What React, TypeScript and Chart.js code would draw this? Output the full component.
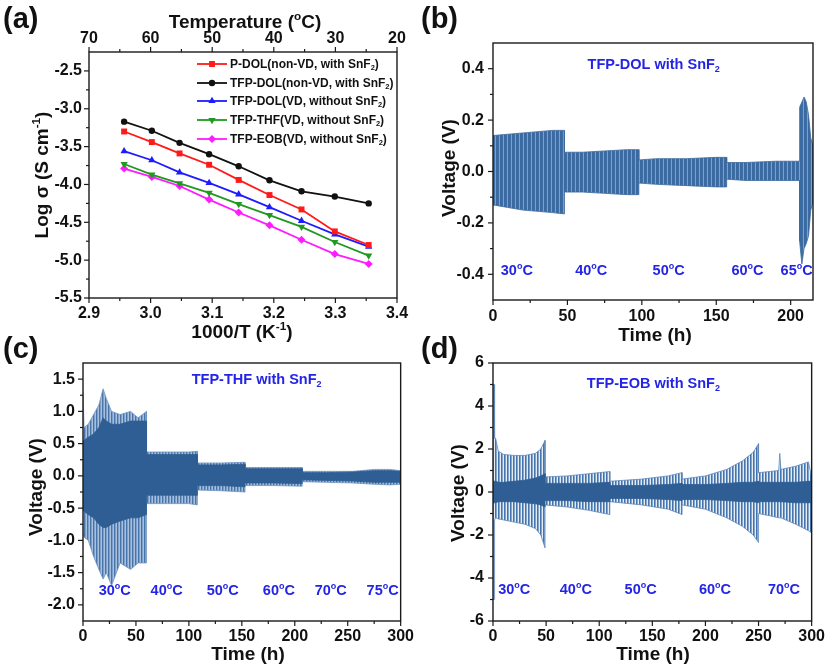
import React, { useEffect, useRef } from 'react';
import { Chart, registerables } from 'chart.js';
Chart.register(...registerables);

const FONT = '"Liberation Sans", Arial, Helvetica, sans-serif';
const TXT_BLUE = '#2424e6';
const WAVE = '#3a6aa0';
const WAVE_DARK = '#2e5e93';

// ---------- Panel (a) data ----------
const aInvT = [2.957, 3.002, 3.047, 3.095, 3.143, 3.193, 3.245, 3.299, 3.354];
const pDolNonVD = [-3.30, -3.44, -3.59, -3.74, -3.94, -4.14, -4.33, -4.62, -4.80];
const tfpDolNonVD = [-3.17, -3.29, -3.45, -3.60, -3.76, -3.945, -4.09, -4.16, -4.25];
const tfpDolVD = [-3.56, -3.68, -3.84, -3.98, -4.13, -4.30, -4.48, -4.66, -4.82];
const tfpThfVD = [-3.73, -3.87, -3.985, -4.11, -4.26, -4.405, -4.56, -4.76, -4.94];
const tfpEobVD = [-3.79, -3.90, -4.02, -4.20, -4.37, -4.54, -4.73, -4.92, -5.05];
const aSeriesNames = ['P-DOL(non-VD, with SnF', 'TFP-DOL(non-VD, with SnF', 'TFP-DOL(VD, without SnF', 'TFP-THF(VD, without SnF', 'TFP-EOB(VD, without SnF'];
const aXTicks = [2.9, 3.0, 3.1, 3.2, 3.3, 3.4];
const aXMinor = [2.95, 3.05, 3.15, 3.25, 3.35];
const aYTicks = [-2.5, -3.0, -3.5, -4.0, -4.5, -5.0, -5.5];
const aYMinor = [-2.75, -3.25, -3.75, -4.25, -4.75, -5.25];
const aTempTicks = [70, 60, 50, 40, 30, 20];
const aTempMinor = [65, 55, 45, 35, 25];

// ---------- Panel (b) data ----------
const bTime = [0, 0.5, 10, 20, 30, 40, 48, 48, 60, 75, 90, 98, 98, 110, 130, 150, 157, 157, 170, 190, 206, 206, 207.5, 209, 210.5, 212, 213.5, 215];
const bUpper = [0.14, 0.14, 0.145, 0.15, 0.155, 0.16, 0.16, 0.075, 0.075, 0.08, 0.085, 0.085, 0.045, 0.05, 0.05, 0.055, 0.055, 0.035, 0.035, 0.04, 0.04, 0.25, 0.27, 0.29, 0.27, 0.22, 0.13, 0.1];
const bLower = [-0.13, -0.13, -0.14, -0.15, -0.155, -0.16, -0.165, -0.08, -0.08, -0.085, -0.09, -0.09, -0.045, -0.05, -0.055, -0.06, -0.06, -0.03, -0.035, -0.035, -0.035, -0.27, -0.36, -0.3, -0.28, -0.25, -0.15, -0.12];
const bXTicks = [0, 50, 100, 150, 200];
const bXMinor = [25, 75, 125, 175];
const bYTicks = [0.4, 0.2, 0.0, -0.2, -0.4];
const bYMinor = [0.3, 0.1, -0.1, -0.3];
const bTempLabels = ['30', '40', '50', '60', '65'];
const bTempPosX = [16, 66, 118, 171, 204];

// ---------- Panel (c) data ----------
const cTime = [0, 1, 5, 10, 15, 19, 22, 27, 35, 45, 52, 60, 60, 80, 100, 108, 108, 130, 153, 153, 180, 207, 207, 230, 255, 275, 290, 300];
const cOutUp = [1.3, 0.75, 0.8, 0.95, 1.1, 1.35, 1.2, 1.0, 0.95, 1.0, 0.9, 1.0, 0.37, 0.37, 0.37, 0.38, 0.2, 0.2, 0.21, 0.13, 0.13, 0.13, 0.07, 0.07, 0.07, 0.1, 0.1, 0.08];
const cCoreUp = [0.55, 0.55, 0.6, 0.65, 0.75, 0.9, 0.85, 0.8, 0.8, 0.85, 0.85, 0.85, 0.33, 0.33, 0.33, 0.33, 0.17, 0.17, 0.18, 0.11, 0.11, 0.11, 0.05, 0.05, 0.06, 0.08, 0.08, 0.07];
const cCoreLo = [-0.5, -0.55, -0.6, -0.65, -0.75, -0.8, -0.8, -0.75, -0.7, -0.65, -0.65, -0.6, -0.3, -0.3, -0.3, -0.3, -0.15, -0.15, -0.17, -0.11, -0.11, -0.12, -0.06, -0.07, -0.08, -0.1, -0.1, -0.1];
const cOutLo = [-0.9, -0.95, -1.0, -1.25, -1.45, -1.6, -1.5, -1.7, -1.35, -1.45, -1.35, -1.35, -0.43, -0.43, -0.43, -0.45, -0.22, -0.23, -0.25, -0.15, -0.15, -0.16, -0.09, -0.1, -0.11, -0.13, -0.14, -0.13];
const cXTicks = [0, 50, 100, 150, 200, 250, 300];
const cXMinor = [25, 75, 125, 175, 225, 275];
const cYTicks = [1.5, 1.0, 0.5, 0.0, -0.5, -1.0, -1.5, -2.0];
const cYMinor = [1.25, 0.75, 0.25, -0.25, -0.75, -1.25, -1.75];
const cTempLabels = ['30', '40', '50', '60', '70', '75'];
const cTempPosX = [30, 79, 132, 185, 234, 283];

// ---------- Panel (d) data ----------
const dTime = [0, 1.2, 1.5, 2.5, 5, 10, 20, 30, 40, 45, 49, 49, 70, 90, 110, 110, 140, 165, 178, 178, 200, 220, 235, 245, 250, 250, 260, 269, 270, 271, 285, 297, 300];
const dOutUp = [5.0, 5.0, 2.5, 2.5, 1.9, 1.75, 1.7, 1.7, 1.8, 2.0, 2.4, 0.7, 0.75, 0.85, 0.95, 0.5, 0.6, 0.75, 0.9, 0.6, 0.75, 1.05, 1.45, 1.85, 2.25, 0.9, 0.95, 1.0, 1.8, 1.05, 1.2, 1.4, 0.7];
const dCoreUp = [0.5, 0.5, 0.5, 0.5, 0.45, 0.45, 0.5, 0.55, 0.65, 0.75, 0.85, 0.4, 0.4, 0.4, 0.45, 0.3, 0.3, 0.35, 0.4, 0.35, 0.35, 0.4, 0.45, 0.45, 0.5, 0.45, 0.45, 0.45, 0.45, 0.45, 0.45, 0.5, 0.5];
const dCoreLo = [-0.5, -0.5, -0.5, -0.5, -0.45, -0.45, -0.45, -0.5, -0.55, -0.6, -0.7, -0.4, -0.4, -0.45, -0.45, -0.3, -0.3, -0.35, -0.4, -0.35, -0.35, -0.4, -0.45, -0.45, -0.5, -0.45, -0.45, -0.45, -0.45, -0.45, -0.5, -0.5, -0.5];
const dOutLo = [-5.0, -5.0, -1.3, -1.2, -1.25, -1.3, -1.4, -1.5, -1.7, -2.0, -2.6, -0.6, -0.7, -0.85, -1.05, -0.45, -0.6, -0.8, -1.05, -0.6, -0.8, -1.2, -1.6, -2.0, -2.35, -1.0, -1.1, -1.2, -1.2, -1.2, -1.5, -1.8, -1.9];
const dXTicks = [0, 50, 100, 150, 200, 250, 300];
const dXMinor = [25, 75, 125, 175, 225, 275];
const dYTicks = [6, 4, 2, 0, -2, -4, -6];
const dYMinor = [5, 3, 1, -1, -3, -5];
const dTempLabels = ['30', '40', '50', '60', '70'];
const dTempPosX = [20, 78, 139, 209, 274];

// ---------- helpers ----------
type Seg = [string, string?];

function segFont(size: number, mode?: string) {
  const s = mode ? size * 0.62 : size;
  return `bold ${s}px ${FONT}`;
}
function richWidth(ctx: CanvasRenderingContext2D, segs: Seg[], size: number) {
  let w = 0;
  for (const [t, m] of segs) { ctx.font = segFont(size, m); w += ctx.measureText(t).width; }
  return w;
}
function drawRich(ctx: CanvasRenderingContext2D, segs: Seg[], x: number, y: number, size: number, color: string, align: string) {
  ctx.fillStyle = color;
  ctx.textBaseline = 'alphabetic';
  ctx.textAlign = 'left';
  let cx = align === 'center' ? x - richWidth(ctx, segs, size) / 2 : x;
  for (const [t, m] of segs) {
    ctx.font = segFont(size, m);
    const dy = m === 'sup' ? -size * 0.42 : m === 'sub' ? size * 0.2 : 0;
    ctx.fillText(t, cx, y + dy);
    cx += ctx.measureText(t).width;
  }
}
function drawMarker(ctx: CanvasRenderingContext2D, style: string, rot: number, x: number, y: number, r: number, color: string) {
  ctx.fillStyle = color;
  ctx.beginPath();
  if (style === 'rect') {
    const s = r * Math.SQRT1_2;
    ctx.rect(x - s, y - s, 2 * s, 2 * s);
  } else if (style === 'circle') {
    ctx.arc(x, y, r, 0, Math.PI * 2);
  } else if (style === 'triangle') {
    const d = rot === 180 ? -1 : 1;
    ctx.moveTo(x, y - d * r);
    ctx.lineTo(x - r * 0.87, y + d * r * 0.5);
    ctx.lineTo(x + r * 0.87, y + d * r * 0.5);
    ctx.closePath();
  } else {
    ctx.moveTo(x, y - r); ctx.lineTo(x + r, y); ctx.lineTo(x, y + r); ctx.lineTo(x - r, y); ctx.closePath();
  }
  ctx.fill();
}

function stripes(colors: string[]): any {
  const c = document.createElement('canvas');
  c.width = colors.length; c.height = 2;
  const g = c.getContext('2d')!;
  colors.forEach((col, i) => { g.fillStyle = col; g.fillRect(i, 0, 1, 2); });
  return g.createPattern(c, 'repeat');
}

const decorPlugin = {
  id: 'decor',
  afterDraw(chart: any, _args: any, o: any) {
    const ctx: CanvasRenderingContext2D = chart.ctx;
    const ca = chart.chartArea;
    ctx.save();
    ctx.strokeStyle = '#1a1a1a';
    ctx.lineWidth = 1.4;
    ctx.strokeRect(ca.left, ca.top, ca.right - ca.left, ca.bottom - ca.top);
    ctx.lineWidth = 1.2;
    for (const t of (o.ticks || [])) {
      const sc = chart.scales[t.axis];
      const draw = (v: number, len: number) => {
        const p = sc.getPixelForValue(v);
        ctx.beginPath();
        if (t.side === 'left') { ctx.moveTo(ca.left, p); ctx.lineTo(ca.left - len, p); }
        else if (t.side === 'bottom') { ctx.moveTo(p, ca.bottom); ctx.lineTo(p, ca.bottom + len); }
        else { ctx.moveTo(p, ca.top); ctx.lineTo(p, ca.top - len); }
        ctx.stroke();
      };
      t.major.forEach((v: number) => draw(v, 5));
      t.minor.forEach((v: number) => draw(v, 3));
    }
    for (const tx of (o.texts || [])) {
      const size = tx.size;
      const color = tx.color || '#111';
      if (tx.data) {
        const px = chart.scales.x.getPixelForValue(tx.x);
        const py = chart.scales.y.getPixelForValue(tx.y);
        drawRich(ctx, tx.segs, px, py + size * 0.36, size, color, 'center');
      } else if (tx.rot) {
        ctx.save();
        ctx.translate(tx.x, tx.y);
        ctx.rotate(-Math.PI / 2);
        drawRich(ctx, tx.segs, 0, size * 0.36, size, color, 'center');
        ctx.restore();
      } else {
        drawRich(ctx, tx.segs, tx.x, tx.y, size, color, tx.align || 'left');
      }
    }
    if (o.legend) {
      const L = o.legend;
      chart.data.datasets.forEach((ds: any, i: number) => {
        const y = L.ys[i];
        ctx.strokeStyle = ds.borderColor;
        ctx.lineWidth = ds.borderWidth;
        ctx.beginPath(); ctx.moveTo(L.x0, y); ctx.lineTo(L.x1, y); ctx.stroke();
        drawMarker(ctx, ds.pointStyle, ds.pointRotation || 0, (L.x0 + L.x1) / 2, y, ds.pointRadius, ds.borderColor);
        drawRich(ctx, [[ds.label, ''], ['2', 'sub'], [')', '']], L.tx, y + 4, L.size, '#111', 'left');
      });
    }
    ctx.restore();
  },
};

const tickFont = { family: FONT, size: 16, weight: 'bold' as const };

function linAxis(opts: any) {
  const { pos, min, max, ticks, size, pad, fmt, reverse } = opts;
  const horizontal = pos === 'top' || pos === 'bottom';
  return {
    type: 'linear',
    position: pos,
    min, max, reverse: !!reverse,
    display: true,
    grid: { display: false, drawTicks: false },
    border: { display: false },
    afterBuildTicks: (s: any) => { s.ticks = ticks.map((v: number) => ({ value: v })); },
    afterFit: (s: any) => { if (horizontal) s.height = size; else s.width = size; },
    ticks: {
      padding: pad, font: tickFont, color: '#111', autoSkip: false, maxRotation: 0, minRotation: 0,
      callback: (v: any) => fmt(Number(v)),
    },
  };
}

const pts = (xs: number[], ys: number[]) => xs.map((x, i) => ({ x, y: ys[i] }));

function bandSets(xs: number[], up: number[], lo: number[], fill: any, line: string, order: number) {
  return [
    { data: pts(xs, up), borderColor: line, borderWidth: 0.8, pointRadius: 0, fill: false, order, tension: 0 },
    { data: pts(xs, lo), borderColor: line, borderWidth: 0.8, pointRadius: 0, fill: '-1', backgroundColor: fill, order, tension: 0 },
  ];
}

const deg = (t: string): Seg[] => [[t, ''], ['o', 'sup'], ['C', '']];
const timeTitle: Seg[] = [['Time (h)', '']];
const voltTitle: Seg[] = [['Voltage (V)', '']];

function baseOptions(extra: any) {
  return {
    responsive: false,
    animation: false,
    events: [],
    plugins: { legend: { display: false }, tooltip: { enabled: false }, decor: extra.decor },
    layout: { padding: extra.padding },
    scales: extra.scales,
  };
}

function makeA(): any {
  const styles = [
    { c: '#ff1a1a', s: 'rect', r: 4.2, rot: 0 },
    { c: '#111111', s: 'circle', r: 3.2, rot: 0 },
    { c: '#1c1cff', s: 'triangle', r: 4.2, rot: 0 },
    { c: '#1f9a1f', s: 'triangle', r: 4.2, rot: 180 },
    { c: '#ff1aff', s: 'rectRot', r: 4, rot: 0 },
  ];
  const series = [pDolNonVD, tfpDolNonVD, tfpDolVD, tfpThfVD, tfpEobVD];
  return {
    type: 'line',
    data: {
      datasets: series.map((ys, i) => ({
        label: aSeriesNames[i], data: pts(aInvT, ys), borderColor: styles[i].c, backgroundColor: styles[i].c,
        borderWidth: 1.8, pointStyle: styles[i].s, pointRadius: styles[i].r, pointRotation: styles[i].rot,
        pointBorderWidth: 0, fill: false, tension: 0, xAxisID: 'x', yAxisID: 'y',
      })),
    },
    options: baseOptions({
      padding: { left: 0, right: 18, top: 0, bottom: 0 },
      scales: {
        x: linAxis({ pos: 'bottom', min: 2.9, max: 3.4, ticks: aXTicks, size: 47, pad: 6, fmt: (v: number) => v.toFixed(1) }),
        x2: linAxis({ pos: 'top', min: 20, max: 70, reverse: true, ticks: aTempTicks, size: 52, pad: 4, fmt: (v: number) => String(v) }),
        y: linAxis({ pos: 'left', min: -5.5, max: -2.25, ticks: aYTicks, size: 89, pad: 7, fmt: (v: number) => v.toFixed(1) }),
      },
      decor: {
        ticks: [
          { axis: 'x', side: 'bottom', major: aXTicks, minor: aXMinor },
          { axis: 'x2', side: 'top', major: aTempTicks, minor: aTempMinor },
          { axis: 'y', side: 'left', major: aYTicks, minor: aYMinor },
        ],
        texts: [
          { segs: [['(a)', '']], x: 3, y: 28, size: 29 },
          { segs: [['Temperature (', ''], ['o', 'sup'], ['C)', '']], x: 245, y: 28, size: 19, align: 'center' },
          { segs: [['Log σ (S cm', ''], ['-1', 'sup'], [')', '']], x: 41, y: 175, size: 19, rot: true },
          { segs: [['1000/T (K', ''], ['-1', 'sup'], [')', '']], x: 242, y: 338, size: 19, align: 'center' },
        ],
        legend: { x0: 197, x1: 227, tx: 230, ys: [64, 83, 101, 120, 139], size: 12 },
      },
    }),
  };
}

function tempTexts(labels: string[], xs: number[], y: number): any[] {
  return labels.map((l, i) => ({ segs: deg(l), x: xs[i], y, size: 14.5, color: TXT_BLUE, data: true }));
}

function makeB(): any {
  const fill = stripes(['#3a6aa1', '#3a6aa1', '#3f6fa5', '#7f9fc8']);
  return {
    type: 'line',
    data: { datasets: bandSets(bTime, bUpper, bLower, fill, WAVE, 0) },
    options: baseOptions({
      padding: { left: 0, right: 18, top: 43, bottom: 0 },
      scales: {
        x: linAxis({ pos: 'bottom', min: 0, max: 215, ticks: bXTicks, size: 45, pad: 7, fmt: (v: number) => String(v) }),
        y: linAxis({ pos: 'left', min: -0.5, max: 0.5, ticks: bYTicks, size: 73, pad: 9, fmt: (v: number) => v.toFixed(1) }),
      },
      decor: {
        ticks: [
          { axis: 'x', side: 'bottom', major: bXTicks, minor: bXMinor },
          { axis: 'y', side: 'left', major: bYTicks, minor: bYMinor },
        ],
        texts: [
          { segs: [['(b)', '']], x: 1, y: 28, size: 29 },
          { segs: voltTitle, x: 28, y: 168, size: 19, rot: true },
          { segs: timeTitle, x: 235, y: 341, size: 19, align: 'center' },
          { segs: [['TFP-DOL with SnF', ''], ['2', 'sub']], x: 108, y: 0.42, size: 14.5, color: TXT_BLUE, data: true },
          ...tempTexts(bTempLabels, bTempPosX, -0.384),
        ],
      },
    }),
  };
}

function makeC(): any {
  const outFill = stripes(['#4775aa', '#7d9fc9', '#a9c0dd']);
  return {
    type: 'line',
    data: {
      datasets: [
        ...bandSets(cTime, cOutUp, cOutLo, outFill, '#6d93c2', 1),
        ...bandSets(cTime, cCoreUp, cCoreLo, WAVE_DARK, WAVE_DARK, 0),
      ],
    },
    options: baseOptions({
      padding: { left: 0, right: 15, top: 28, bottom: 0 },
      scales: {
        x: linAxis({ pos: 'bottom', min: 0, max: 300, ticks: cXTicks, size: 50, pad: 6, fmt: (v: number) => String(v) }),
        y: linAxis({ pos: 'left', min: -2.25, max: 1.75, ticks: cYTicks, size: 83, pad: 8, fmt: (v: number) => v.toFixed(1) }),
      },
      decor: {
        ticks: [
          { axis: 'x', side: 'bottom', major: cXTicks, minor: cXMinor },
          { axis: 'y', side: 'left', major: cYTicks, minor: cYMinor },
        ],
        texts: [
          { segs: [['(c)', '']], x: 3, y: 23, size: 29 },
          { segs: voltTitle, x: 35, y: 152, size: 19, rot: true },
          { segs: timeTitle, x: 248, y: 325, size: 19, align: 'center' },
          { segs: [['TFP-THF with SnF', ''], ['2', 'sub']], x: 164, y: 1.5, size: 14.5, color: TXT_BLUE, data: true },
          ...tempTexts(cTempLabels, cTempPosX, -1.76),
        ],
      },
    }),
  };
}

function makeD(): any {
  const outFill = stripes(['#4574aa', '#86a5cc', '#e4ecf5']);
  return {
    type: 'line',
    data: {
      datasets: [
        ...bandSets(dTime, dOutUp, dOutLo, outFill, '#5f88bb', 1),
        ...bandSets(dTime, dCoreUp, dCoreLo, WAVE_DARK, WAVE_DARK, 0),
      ],
    },
    options: baseOptions({
      padding: { left: 0, right: 18, top: 28, bottom: 0 },
      scales: {
        x: linAxis({ pos: 'bottom', min: 0, max: 300, ticks: dXTicks, size: 50, pad: 6, fmt: (v: number) => String(v) }),
        y: linAxis({ pos: 'left', min: -6, max: 6, ticks: dYTicks, size: 73, pad: 9, fmt: (v: number) => String(v) }),
      },
      decor: {
        ticks: [
          { axis: 'x', side: 'bottom', major: dXTicks, minor: dXMinor },
          { axis: 'y', side: 'left', major: dYTicks, minor: dYMinor },
        ],
        texts: [
          { segs: [['(d)', '']], x: 1, y: 23, size: 29 },
          { segs: voltTitle, x: 37, y: 158, size: 19, rot: true },
          { segs: timeTitle, x: 233, y: 325, size: 19, align: 'center' },
          { segs: [['TFP-EOB with SnF', ''], ['2', 'sub']], x: 151, y: 5.07, size: 14.5, color: TXT_BLUE, data: true },
          ...tempTexts(dTempLabels, dTempPosX, -4.51),
        ],
      },
    }),
  };
}

function Panel(props: { make: () => any; left: number; top: number; width: number; height: number }) {
  const ref = useRef<HTMLCanvasElement>(null);
  useEffect(() => {
    const cfg = props.make();
    cfg.plugins = [decorPlugin];
    const chart = new Chart(ref.current as HTMLCanvasElement, cfg);
    return () => chart.destroy();
  }, []);
  return (
    <canvas
      ref={ref}
      width={props.width}
      height={props.height}
      style={{ position: 'absolute', left: props.left, top: props.top, width: props.width, height: props.height }}
    />
  );
}

export default function App() {
  return (
    <div style={{ position: 'absolute', left: 0, top: 0, width: 831, height: 671, background: '#fff', overflow: 'hidden' }}>
      <Panel make={makeA} left={0} top={0} width={415} height={345} />
      <Panel make={makeB} left={420} top={0} width={411} height={345} />
      <Panel make={makeC} left={0} top={335} width={420} height={336} />
      <Panel make={makeD} left={420} top={335} width={411} height={336} />
    </div>
  );
}
